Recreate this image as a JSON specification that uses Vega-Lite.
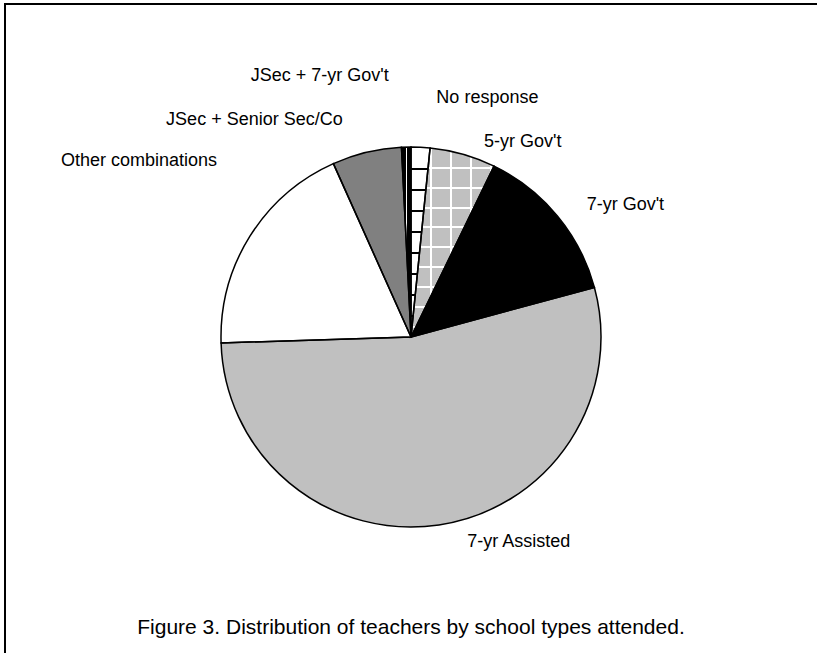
{
  "$schema": "https://vega.github.io/schema/vega-lite/v6.json",
  "autosize": "none",
  "padding": {"left": 5, "top": 4, "right": 0, "bottom": 0},
  "width": 812,
  "height": 649,
  "background": "white",
  "view": {"stroke": "black", "strokeWidth": 2, "fill": "white", "strokeDash": [812, 1461, 649, 2]},
  "title": {
    "text": "Figure 3. Distribution of teachers by school types attended.",
    "orient": "bottom",
    "offset": -36,
    "anchor": "middle",
    "font": "Liberation Sans",
    "fontSize": 21,
    "fontWeight": "normal",
    "color": "black"
  },
  "data": {
    "values": [
      {"type": "No response", "pct": 1.6, "idx": 1},
      {"type": "5-yr Gov't", "pct": 5.6, "idx": 2},
      {"type": "7-yr Gov't", "pct": 13.6, "idx": 3},
      {"type": "7-yr Assisted", "pct": 53.7, "idx": 4},
      {"type": "Other combinations", "pct": 18.8, "idx": 5},
      {"type": "JSec + Senior Sec/Co", "pct": 5.9, "idx": 6},
      {"type": "JSec + 7-yr Gov't", "pct": 0.8, "idx": 7}
    ]
  },
  "encoding": {
    "theta": {"field": "pct", "type": "quantitative", "stack": true},
    "order": {"field": "idx", "type": "quantitative"}
  },
  "layer": [
    {
      "mark": {"type": "arc", "outerRadius": 190, "yOffset": 8.5},
      "encoding": {
        "fill": {
          "field": "type",
          "type": "nominal",
          "legend": null,
          "scale": {
            "domain": ["No response", "5-yr Gov't", "7-yr Gov't", "7-yr Assisted", "Other combinations", "JSec + Senior Sec/Co", "JSec + 7-yr Gov't"],
            "range": ["#ffffff", "#c0c0c0", "#000000", "#c0c0c0", "#ffffff", "#808080", "#111111"]
          },
          "condition": [
            {
              "test": "datum.type === 'No response'",
              "value": {
                "gradient": "linear", "x1": 0, "y1": 0, "x2": 0, "y2": 1,
                "stops": [
                  {"offset": 0, "color": "#ffffff"},
                  {"offset": 0.11, "color": "#ffffff"}, {"offset": 0.11, "color": "#000000"}, {"offset": 0.121, "color": "#000000"}, {"offset": 0.121, "color": "#ffffff"},
                  {"offset": 0.221, "color": "#ffffff"}, {"offset": 0.221, "color": "#000000"}, {"offset": 0.232, "color": "#000000"}, {"offset": 0.232, "color": "#ffffff"},
                  {"offset": 0.331, "color": "#ffffff"}, {"offset": 0.331, "color": "#000000"}, {"offset": 0.342, "color": "#000000"}, {"offset": 0.342, "color": "#ffffff"},
                  {"offset": 0.442, "color": "#ffffff"}, {"offset": 0.442, "color": "#000000"}, {"offset": 0.453, "color": "#000000"}, {"offset": 0.453, "color": "#ffffff"},
                  {"offset": 0.552, "color": "#ffffff"}, {"offset": 0.552, "color": "#000000"}, {"offset": 0.563, "color": "#000000"}, {"offset": 0.563, "color": "#ffffff"},
                  {"offset": 0.663, "color": "#ffffff"}, {"offset": 0.663, "color": "#000000"}, {"offset": 0.674, "color": "#000000"}, {"offset": 0.674, "color": "#ffffff"},
                  {"offset": 0.773, "color": "#ffffff"}, {"offset": 0.773, "color": "#000000"}, {"offset": 0.784, "color": "#000000"}, {"offset": 0.784, "color": "#ffffff"},
                  {"offset": 0.884, "color": "#ffffff"}, {"offset": 0.884, "color": "#000000"}, {"offset": 0.895, "color": "#000000"}, {"offset": 0.895, "color": "#ffffff"},
                  {"offset": 1, "color": "#ffffff"}
                ]
              }
            },
            {
              "test": "datum.type === \"5-yr Gov't\"",
              "value": {
                "gradient": "linear", "x1": 0, "y1": 0, "x2": 1, "y2": 0,
                "stops": [
                  {"offset": 0, "color": "#c0c0c0"},
                  {"offset": 0.23, "color": "#c0c0c0"}, {"offset": 0.23, "color": "#ffffff"}, {"offset": 0.254, "color": "#ffffff"}, {"offset": 0.254, "color": "#c0c0c0"},
                  {"offset": 0.47, "color": "#c0c0c0"}, {"offset": 0.47, "color": "#ffffff"}, {"offset": 0.494, "color": "#ffffff"}, {"offset": 0.494, "color": "#c0c0c0"},
                  {"offset": 0.71, "color": "#c0c0c0"}, {"offset": 0.71, "color": "#ffffff"}, {"offset": 0.734, "color": "#ffffff"}, {"offset": 0.734, "color": "#c0c0c0"},
                  {"offset": 0.95, "color": "#c0c0c0"}, {"offset": 0.95, "color": "#ffffff"}, {"offset": 0.974, "color": "#ffffff"}, {"offset": 0.974, "color": "#c0c0c0"},
                  {"offset": 1, "color": "#c0c0c0"}
                ]
              }
            },
            {
              "test": "datum.type === \"JSec + 7-yr Gov't\"",
              "value": {
                "gradient": "linear", "x1": 0, "y1": 0, "x2": 1, "y2": 0,
                "stops": [
                  {"offset": 0, "color": "#000000"},
                  {"offset": 0.45, "color": "#000000"}, {"offset": 0.45, "color": "#ffffff"}, {"offset": 0.6, "color": "#ffffff"}, {"offset": 0.6, "color": "#000000"},
                  {"offset": 1, "color": "#000000"}
                ]
              }
            }
          ]
        }
      }
    },
    {
      "mark": {"type": "arc", "outerRadius": 190, "yOffset": 8.5},
      "encoding": {
        "fill": {
          "condition": {
            "test": "datum.type === \"5-yr Gov't\"",
            "value": {
              "gradient": "linear", "x1": 0, "y1": 0, "x2": 0, "y2": 1,
              "stops": [
                {"offset": 0, "color": "rgba(255,255,255,0)"},
                {"offset": 0.1, "color": "rgba(255,255,255,0)"}, {"offset": 0.1, "color": "#ffffff"}, {"offset": 0.111, "color": "#ffffff"}, {"offset": 0.111, "color": "rgba(255,255,255,0)"},
                {"offset": 0.205, "color": "rgba(255,255,255,0)"}, {"offset": 0.205, "color": "#ffffff"}, {"offset": 0.216, "color": "#ffffff"}, {"offset": 0.216, "color": "rgba(255,255,255,0)"},
                {"offset": 0.31, "color": "rgba(255,255,255,0)"}, {"offset": 0.31, "color": "#ffffff"}, {"offset": 0.321, "color": "#ffffff"}, {"offset": 0.321, "color": "rgba(255,255,255,0)"},
                {"offset": 0.415, "color": "rgba(255,255,255,0)"}, {"offset": 0.415, "color": "#ffffff"}, {"offset": 0.426, "color": "#ffffff"}, {"offset": 0.426, "color": "rgba(255,255,255,0)"},
                {"offset": 0.52, "color": "rgba(255,255,255,0)"}, {"offset": 0.52, "color": "#ffffff"}, {"offset": 0.531, "color": "#ffffff"}, {"offset": 0.531, "color": "rgba(255,255,255,0)"},
                {"offset": 0.625, "color": "rgba(255,255,255,0)"}, {"offset": 0.625, "color": "#ffffff"}, {"offset": 0.636, "color": "#ffffff"}, {"offset": 0.636, "color": "rgba(255,255,255,0)"},
                {"offset": 0.73, "color": "rgba(255,255,255,0)"}, {"offset": 0.73, "color": "#ffffff"}, {"offset": 0.741, "color": "#ffffff"}, {"offset": 0.741, "color": "rgba(255,255,255,0)"},
                {"offset": 0.835, "color": "rgba(255,255,255,0)"}, {"offset": 0.835, "color": "#ffffff"}, {"offset": 0.846, "color": "#ffffff"}, {"offset": 0.846, "color": "rgba(255,255,255,0)"},
                {"offset": 0.94, "color": "rgba(255,255,255,0)"}, {"offset": 0.94, "color": "#ffffff"}, {"offset": 0.951, "color": "#ffffff"}, {"offset": 0.951, "color": "rgba(255,255,255,0)"},
                {"offset": 1, "color": "rgba(255,255,255,0)"}
              ]
            }
          },
          "value": "transparent"
        }
      }
    },
    {
      "mark": {"type": "arc", "outerRadius": 190, "yOffset": 8.5, "fill": "transparent", "stroke": "black", "strokeWidth": 1.5}
    },
    {
      "mark": {"type": "text", "radius": 215, "yOffset": 8.5, "dx": 65.6, "dy": -24.3, "font": "Liberation Sans", "fontSize": 18, "color": "black", "align": "center", "baseline": "middle"},
      "encoding": {"text": {"condition": {"test": "datum.type === 'No response'", "field": "type"}, "value": ""}}
    },
    {
      "mark": {"type": "text", "radius": 215, "yOffset": 8.5, "dx": 53, "dy": 11.9, "font": "Liberation Sans", "fontSize": 18, "color": "black", "align": "center", "baseline": "middle"},
      "encoding": {"text": {"condition": {"test": "datum.type === \"5-yr Gov't\"", "field": "type"}, "value": ""}}
    },
    {
      "mark": {"type": "text", "radius": 215, "yOffset": 8.5, "dx": 48.7, "dy": 5.1, "font": "Liberation Sans", "fontSize": 18, "color": "black", "align": "center", "baseline": "middle"},
      "encoding": {"text": {"condition": {"test": "datum.type === \"7-yr Gov't\"", "field": "type"}, "value": ""}}
    },
    {
      "mark": {"type": "text", "radius": 215, "yOffset": 8.5, "dx": 76.1, "dy": -7.7, "font": "Liberation Sans", "fontSize": 18, "color": "black", "align": "center", "baseline": "middle"},
      "encoding": {"text": {"condition": {"test": "datum.type === '7-yr Assisted'", "field": "type"}, "value": ""}}
    },
    {
      "mark": {"type": "text", "radius": 215, "yOffset": 8.5, "dx": -89.7, "dy": -62.1, "font": "Liberation Sans", "fontSize": 18, "color": "black", "align": "center", "baseline": "middle"},
      "encoding": {"text": {"condition": {"test": "datum.type === 'Other combinations'", "field": "type"}, "value": ""}}
    },
    {
      "mark": {"type": "text", "radius": 215, "yOffset": 8.5, "dx": -106.4, "dy": -8, "font": "Liberation Sans", "fontSize": 18, "color": "black", "align": "center", "baseline": "middle"},
      "encoding": {"text": {"condition": {"test": "datum.type === 'JSec + Senior Sec/Co'", "field": "type"}, "value": ""}}
    },
    {
      "mark": {"type": "text", "radius": 215, "yOffset": 8.5, "dx": -85.9, "dy": -46.1, "font": "Liberation Sans", "fontSize": 18, "color": "black", "align": "center", "baseline": "middle"},
      "encoding": {"text": {"condition": {"test": "datum.type === \"JSec + 7-yr Gov't\"", "field": "type"}, "value": ""}}
    }
  ]
}
